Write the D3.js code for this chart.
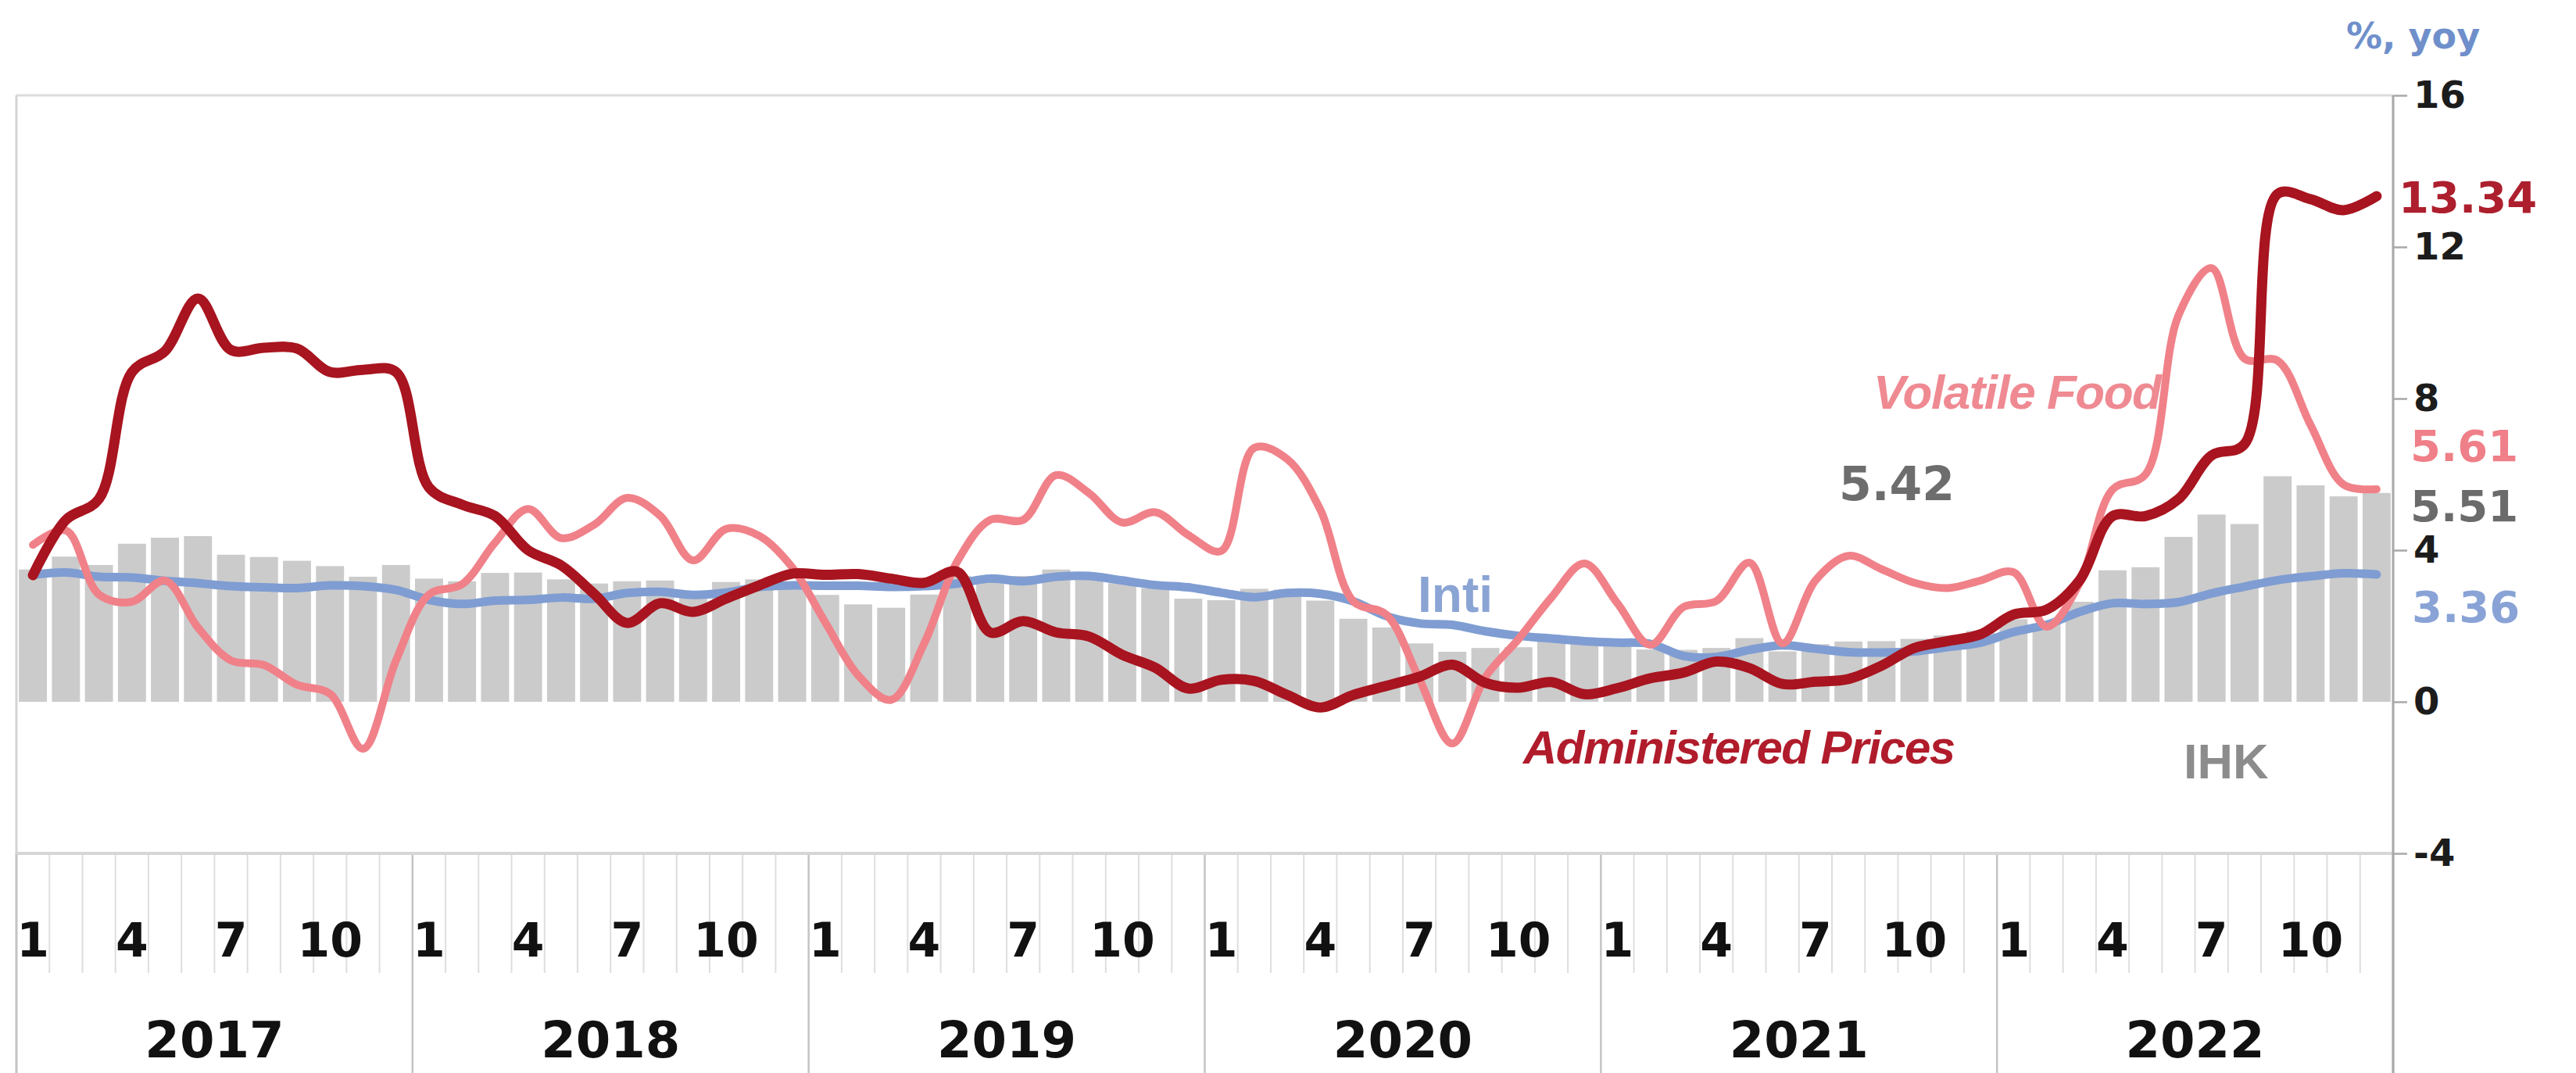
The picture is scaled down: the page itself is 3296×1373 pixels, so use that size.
<!DOCTYPE html>
<html>
<head>
<meta charset="utf-8">
<script src="https://cdn.jsdelivr.net/npm/d3@7"></script>
<style>
  html, body { margin: 0; padding: 0; background: #ffffff; }
  svg { display: block; }
</style>
</head>
<body>
<svg id="chart" width="3296" height="1373"></svg>
<script>
// ---------------- DATA ----------------
const years = ["2017", "2018", "2019", "2020", "2021", "2022"];
const monthNumbers = [1, 2, 3, 4, 5, 6, 7, 8, 9, 10, 11, 12];
const labeledMonths = [1, 4, 7, 10];

// IHK (headline CPI, % yoy) - bars
const ihk = [
  3.49, 3.83, 3.61, 4.17, 4.33, 4.37, 3.88, 3.82, 3.72, 3.58, 3.30, 3.61,
  3.25, 3.18, 3.40, 3.41, 3.23, 3.12, 3.18, 3.20, 2.88, 3.16, 3.23, 3.13,
  2.82, 2.57, 2.48, 2.83, 3.32, 3.28, 3.32, 3.49, 3.39, 3.13, 3.00, 2.72,
  2.68, 2.98, 2.96, 2.67, 2.19, 1.96, 1.54, 1.32, 1.42, 1.44, 1.59, 1.68,
  1.55, 1.38, 1.37, 1.42, 1.68, 1.33, 1.52, 1.59, 1.60, 1.66, 1.75, 1.87,
  2.18, 2.06, 2.64, 3.47, 3.55, 4.35, 4.94, 4.69, 5.95, 5.71, 5.42, 5.51
];

// Inti (core inflation)
const inti = [
  3.35, 3.41, 3.30, 3.28, 3.19, 3.13, 3.05, 3.02, 3.00, 3.07, 3.05, 2.95,
  2.69, 2.58, 2.67, 2.69, 2.75, 2.72, 2.87, 2.90, 2.82, 2.88, 3.03, 3.07,
  3.06, 3.06, 3.03, 3.05, 3.12, 3.25, 3.18, 3.30, 3.32, 3.20, 3.08, 3.02,
  2.88, 2.76, 2.87, 2.85, 2.65, 2.26, 2.07, 2.03, 1.86, 1.74, 1.67, 1.60,
  1.56, 1.53, 1.21, 1.18, 1.37, 1.49, 1.40, 1.31, 1.30, 1.33, 1.44, 1.56,
  1.84, 2.03, 2.37, 2.60, 2.58, 2.63, 2.86, 3.04, 3.21, 3.31, 3.39, 3.36
];

// Volatile Food
const volatileFood = [
  4.14, 4.52, 2.83, 2.64, 3.20, 1.96, 1.09, 0.97, 0.45, 0.21, -1.24, 1.09,
  2.83, 3.10, 4.20, 5.09, 4.32, 4.67, 5.38, 4.91, 3.73, 4.56, 4.38, 3.55,
  2.10, 0.70, 0.05, 1.54, 3.70, 4.80, 4.80, 5.98, 5.50, 4.73, 5.00, 4.40,
  3.98, 6.70, 6.40, 5.07, 2.65, 2.30, 0.60, -1.10, 0.65, 1.65, 2.75, 3.65,
  2.60, 1.50, 2.50, 2.66, 3.67, 1.54, 3.20, 3.85, 3.50, 3.14, 3.00, 3.20,
  3.42, 1.98, 3.13, 5.60, 6.00, 10.20, 11.44, 9.05, 9.00, 7.30, 5.73, 5.61
];

// Administered Prices
const administered = [
  3.34, 4.80, 5.35, 8.70, 9.25, 10.64, 9.28, 9.34, 9.32, 8.70, 8.76, 8.70,
  5.65, 5.20, 4.90, 4.00, 3.60, 2.85, 2.08, 2.60, 2.37, 2.72, 3.07, 3.38,
  3.35, 3.37, 3.25, 3.14, 3.43, 1.83, 2.13, 1.83, 1.72, 1.24, 0.90, 0.35,
  0.58, 0.55, 0.18, -0.15, 0.18, 0.42, 0.66, 0.98, 0.50, 0.37, 0.52, 0.20,
  0.36, 0.62, 0.77, 1.06, 0.89, 0.47, 0.53, 0.60, 0.95, 1.42, 1.60, 1.78,
  2.30, 2.43, 3.20, 4.90, 4.90, 5.35, 6.50, 6.80, 13.40, 13.26, 12.97, 13.34
];

const yTicks = [-4, 0, 4, 8, 12, 16];
const endLabels = [
  { text: "13.34", value: 13.34, color: "#ad1f2d" },
  { text: "5.61", value: 5.61, color: "#ef7f88" },
  { text: "5.51", value: 5.51, color: "#6b6b6b" },
  { text: "3.36", value: 3.36, color: "#89a3d6" }
];

(function () {
// ---------------- LAYOUT ----------------
const svg = d3.select("#chart");
const pLeft = 21, pRight = 3062, pTop = 122, pBottom = 1092;
const monthLabelY = 1224, yearLabelY = 1353, tickBottom = 1245, fullBottom = 1373;

const periods = [];
years.forEach(yr => monthNumbers.forEach(m => periods.push(yr + "-" + m)));

const x = d3.scaleBand().domain(periods).range([pLeft, pRight]).paddingInner(0.15).paddingOuter(0.075);
const xc = p => x(p) + x.bandwidth() / 2;
const y = d3.scaleLinear().domain([-4, 16]).range([pBottom, pTop]);

const numFont = "'DejaVu Sans', Verdana, sans-serif";
const textFont = "'Liberation Sans', Arial, sans-serif";

// frame lines
svg.append("line").attr("x1", pLeft).attr("x2", pRight).attr("y1", pTop).attr("y2", pTop)
  .attr("stroke", "#dcdcdc").attr("stroke-width", 3);
svg.append("line").attr("x1", pLeft).attr("x2", pLeft).attr("y1", pTop).attr("y2", fullBottom)
  .attr("stroke", "#d4d4d4").attr("stroke-width", 3);

// month boundary ticks below the plot
const boundaries = d3.range(periods.length + 1).map(i => pLeft + i * (pRight - pLeft) / periods.length);
svg.append("g").selectAll("line").data(boundaries).join("line")
  .attr("x1", d => d).attr("x2", d => d)
  .attr("y1", pBottom).attr("y2", (d, i) => (i % 12 === 0) ? fullBottom : tickBottom)
  .attr("stroke", (d, i) => (i % 12 === 0) ? "#c4c4c4" : "#dedede")
  .attr("stroke-width", (d, i) => (i % 12 === 0) ? 2.5 : 2);

// bottom axis line at -4
svg.append("line").attr("x1", pLeft).attr("x2", pRight).attr("y1", pBottom).attr("y2", pBottom)
  .attr("stroke", "#d6d6d6").attr("stroke-width", 4);

// bars
svg.append("g").selectAll("rect").data(periods).join("rect")
  .attr("x", p => x(p))
  .attr("width", x.bandwidth())
  .attr("y", (p, i) => y(Math.max(0, ihk[i])))
  .attr("height", (p, i) => Math.abs(y(ihk[i]) - y(0)))
  .attr("fill", "#cbcbcb");

// right axis
const axis = d3.axisRight(y).tickValues(yTicks).tickSize(18).tickPadding(8).tickFormat(d => String(d));
const gAxis = svg.append("g").attr("transform", `translate(${pRight},0)`).call(axis);
gAxis.select(".domain").remove();
gAxis.selectAll(".tick line").attr("stroke", "#a8a8a8").attr("stroke-width", 2.5);
gAxis.selectAll(".tick text")
  .attr("font-family", numFont).attr("font-weight", "bold").attr("font-size", 48)
  .attr("fill", "#1c1c1c");
svg.append("line").attr("x1", pRight).attr("x2", pRight).attr("y1", pTop).attr("y2", fullBottom)
  .attr("stroke", "#a8a8a8").attr("stroke-width", 3);

// month labels
svg.append("g").selectAll("text")
  .data(periods.filter(p => labeledMonths.includes(+p.split("-")[1])))
  .join("text")
  .attr("x", p => xc(p)).attr("y", monthLabelY)
  .attr("text-anchor", "middle")
  .attr("font-family", numFont).attr("font-weight", "bold").attr("font-size", 60)
  .attr("fill", "#111")
  .text(p => p.split("-")[1]);

// year labels
svg.append("g").selectAll("text").data(years).join("text")
  .attr("x", yr => (xc(yr + "-1") + xc(yr + "-12")) / 2)
  .attr("y", yearLabelY)
  .attr("text-anchor", "middle")
  .attr("font-family", numFont).attr("font-weight", "bold").attr("font-size", 64)
  .attr("fill", "#111")
  .text(yr => yr);

// series annotations (drawn below lines)
svg.append("text").attr("x", 2397).attr("y", 523)
  .attr("font-family", textFont).attr("font-weight", "bold").attr("font-style", "italic")
  .attr("font-size", 62).attr("letter-spacing", -1.5).attr("fill", "#ef8a92").text("Volatile Food");
svg.append("text").attr("x", 1949).attr("y", 977)
  .attr("font-family", textFont).attr("font-weight", "bold").attr("font-style", "italic")
  .attr("font-size", 60).attr("letter-spacing", -1.5).attr("fill", "#b01c2b").text("Administered Prices");
svg.append("text").attr("x", 1814).attr("y", 783)
  .attr("font-family", textFont).attr("font-weight", "bold")
  .attr("font-size", 64).attr("fill", "#8aa4d4").text("Inti");
svg.append("text").attr("x", 2794).attr("y", 996)
  .attr("font-family", textFont).attr("font-weight", "bold")
  .attr("font-size", 63).attr("fill", "#8c8c8c").text("IHK");
svg.append("text").attr("x", 2353).attr("y", 640)
  .attr("font-family", numFont).attr("font-weight", "bold")
  .attr("font-size", 60).attr("fill", "#6d6d6d").text("5.42");

// lines
const lineFor = arr => d3.line()
  .x(p => xc(p))
  .y((p, i) => y(arr[i]))
  .curve(d3.curveCatmullRom.alpha(0.5))(periods);

svg.append("path").attr("d", lineFor(inti)).attr("fill", "none")
  .attr("stroke", "#7f9dd2").attr("stroke-width", 11).attr("stroke-linejoin", "round").attr("stroke-linecap", "round");
svg.append("path").attr("d", lineFor(volatileFood)).attr("fill", "none")
  .attr("stroke", "#f08189").attr("stroke-width", 10).attr("stroke-linejoin", "round").attr("stroke-linecap", "round");
svg.append("path").attr("d", lineFor(administered)).attr("fill", "none")
  .attr("stroke", "#a8141f").attr("stroke-width", 13).attr("stroke-linejoin", "round").attr("stroke-linecap", "round");

// end-value labels
const endX = [3069, 3084, 3084, 3086];
const endY = [252, 570, 647, 776];
svg.append("g").selectAll("text").data(endLabels).join("text")
  .attr("x", (d, i) => endX[i]).attr("y", (d, i) => endY[i])
  .attr("dy", "0.36em")
  .attr("font-family", numFont).attr("font-weight", "bold").attr("font-size", 56)
  .attr("fill", d => d.color)
  .text(d => d.text);

// unit label
svg.append("text").attr("x", 3002).attr("y", 62)
  .attr("font-family", numFont).attr("font-weight", "bold").attr("font-size", 46)
  .attr("fill", "#6f8fcb").text("%, yoy");
})();
</script>
</body>
</html>
